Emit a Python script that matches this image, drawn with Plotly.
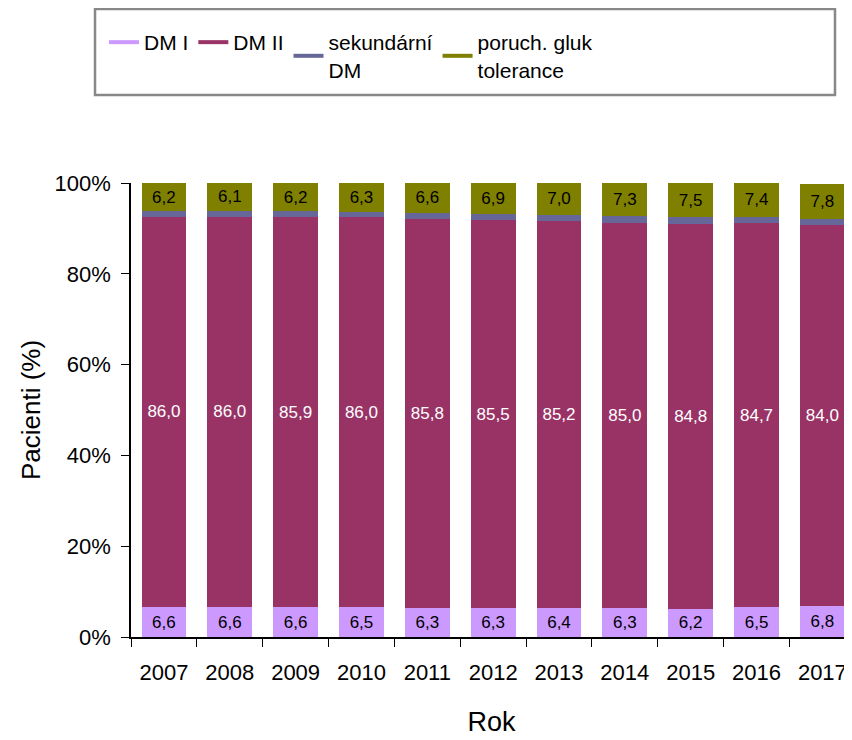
import plotly.graph_objects as go

years = ["2007", "2008", "2009", "2010", "2011", "2012", "2013", "2014", "2015", "2016", "2017"]
dm1 = [6.6, 6.6, 6.6, 6.5, 6.3, 6.3, 6.4, 6.3, 6.2, 6.5, 6.8]
dm2 = [86.0, 86.0, 85.9, 86.0, 85.8, 85.5, 85.2, 85.0, 84.8, 84.7, 84.0]
sek = [1.2, 1.3, 1.3, 1.2, 1.3, 1.3, 1.4, 1.4, 1.5, 1.4, 1.2]
pgt = [6.2, 6.1, 6.2, 6.3, 6.6, 6.9, 7.0, 7.3, 7.5, 7.4, 7.8]
y_ticks = [0, 20, 40, 60, 80, 100]
y_ticktext = ["0%", "20%", "40%", "60%", "80%", "100%"]

names = ["DM I", "DM II", "sekundární<br>DM", "poruch. gluk<br>tolerance"]
colors = ["#CC99FF", "#993366", "#666699", "#808000"]
series = [dm1, dm2, sek, pgt]
label_colors = ["black", "white", None, "black"]

font = "Liberation Sans, Arial, sans-serif"
W, H = 844, 732  # page body has an 8px default margin

fig = go.Figure()
for vals, col, lc in zip(series, colors, label_colors):
    fig.add_trace(go.Bar(
        x=years, y=vals, marker=dict(color=col, line=dict(width=0)),
        texttemplate="%{y:.1f}" if lc else "",
        textposition="inside" if lc else "none",
        insidetextanchor="middle", textangle=0,
        textfont=dict(size=17, color=lc or "black", family=font),
        showlegend=False, hoverinfo="skip",
    ))
for name, col in zip(names, colors):
    fig.add_trace(go.Scatter(
        x=[None], y=[None], mode="lines", name=name,
        line=dict(color=col, width=4), showlegend=True,
    ))

# legend frame (wider than the legend content, as in the reference)
fig.add_shape(type="rect", xref="paper", yref="paper",
              x0=-0.0499, x1=0.9764, y0=1.194, y1=1.383,
              line=dict(color="#888888", width=2.5), fillcolor="rgba(0,0,0,0)",
              layer="above")

fig.update_layout(
    width=W, height=H,
    barmode="stack", bargap=0.32,
    separators=",.",
    paper_bgcolor="white", plot_bgcolor="white",
    margin=dict(l=123, r=0, t=175, b=103, autoexpand=False),
    font=dict(family=font, size=22, color="black"),
    legend=dict(
        orientation="h", xref="container", yref="container",
        x=96 / W, xanchor="left", y=1 - 48 / H, yanchor="middle",
        traceorder="normal", borderwidth=0,
        font=dict(size=21, family=font),
        valign="middle",
    ),
    xaxis=dict(
        title=dict(text="Rok", font=dict(size=27), standoff=28),
        range=[-0.5, 10.45], showgrid=False,
        showline=True, linecolor="black", linewidth=1.5,
        ticks="outside", tickson="boundaries", ticklen=8, tickcolor="black",
        ticklabelstandoff=15,
        tickfont=dict(size=22),
    ),
    yaxis=dict(
        title=dict(text="Pacienti (%)", font=dict(size=26), standoff=6),
        range=[0, 100], tickvals=y_ticks, ticktext=y_ticktext,
        showgrid=False, zeroline=False,
        showline=True, linecolor="black", linewidth=1.5,
        ticks="outside", ticklen=8, tickcolor="black",
        ticklabelstandoff=6,
        tickfont=dict(size=22),
    ),
)
fig.write_html("out.html")
